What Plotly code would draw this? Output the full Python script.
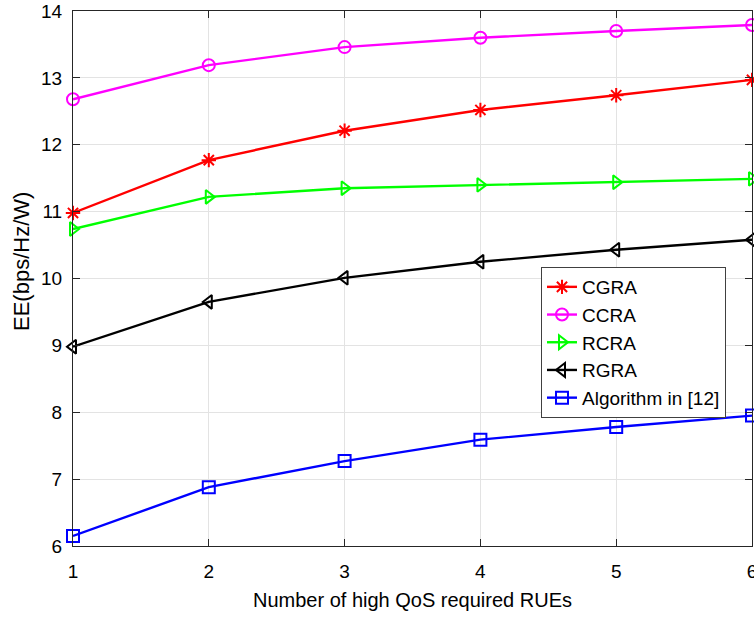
import plotly.graph_objects as go

x_vals = [1, 2, 3, 4, 5, 6]
cgra = [10.98, 11.77, 12.21, 12.52, 12.74, 12.97]
ccra = [12.68, 13.19, 13.46, 13.60, 13.70, 13.79]
rcra = [10.74, 11.22, 11.35, 11.40, 11.44, 11.49]
rgra = [8.98, 9.65, 10.01, 10.25, 10.43, 10.58]
alg12 = [6.15, 6.88, 7.27, 7.59, 7.78, 7.95]

series = [
    ("CGRA", cgra, "#ff0000", "asterisk-open"),
    ("CCRA", ccra, "#ff00ff", "circle-open"),
    ("RCRA", rcra, "#00ff00", "triangle-right-open"),
    ("RGRA", rgra, "#000000", "triangle-left-open"),
    ("Algorithm in [12]", alg12, "#0000ff", "square-open"),
]

FONT = "Liberation Sans, Arial, Helvetica"

fig = go.Figure()
for name, ys, color, sym in series:
    fig.add_trace(go.Scatter(
        x=x_vals, y=ys, name=name, mode="lines+markers",
        line=dict(color=color, width=2.4),
        marker=dict(symbol=sym, size=12, color=color, line=dict(color=color, width=2)),
        cliponaxis=False,
    ))

axis_common = dict(
    showline=True, linecolor="#262626", linewidth=1, mirror="ticks",
    ticks="inside", ticklen=7, tickcolor="#262626",
    showgrid=True, gridcolor="#e3e3e3", gridwidth=1, zeroline=False,
    tickfont=dict(family=FONT, size=19, color="#000000"),
    automargin=False,
)

fig.update_xaxes(range=[1, 6], dtick=1, tick0=1, ticklabelstandoff=8,
                 ticklabeloverflow="allow",
                 title=dict(text="Number of high QoS required RUEs",
                            font=dict(family=FONT, size=20, color="#000000"),
                            standoff=12),
                 **axis_common)
fig.update_yaxes(range=[6, 14], dtick=1, ticklabelstandoff=6,
                 **axis_common)

fig.add_annotation(
    text="EE(bps/Hz/W)", xref="paper", yref="paper",
    x=(21 - 73) / 679, y=(546 - 261) / 535, xanchor="center", yanchor="middle",
    textangle=-90, showarrow=False,
    font=dict(family=FONT, size=22, color="#000000"),
)

fig.update_layout(
    width=754, height=617,
    margin=dict(l=73, r=2, t=11, b=71),
    paper_bgcolor="white", plot_bgcolor="white",
    showlegend=True,
    legend=dict(x=(541 - 73) / 679, y=(546 - 267) / 535, xanchor="left", yanchor="top",
                bgcolor="white", bordercolor="#404040", borderwidth=1,
                font=dict(family=FONT, size=19, color="#000000"),
                tracegroupgap=0, itemwidth=30),
)

fig.write_html("out.html")
